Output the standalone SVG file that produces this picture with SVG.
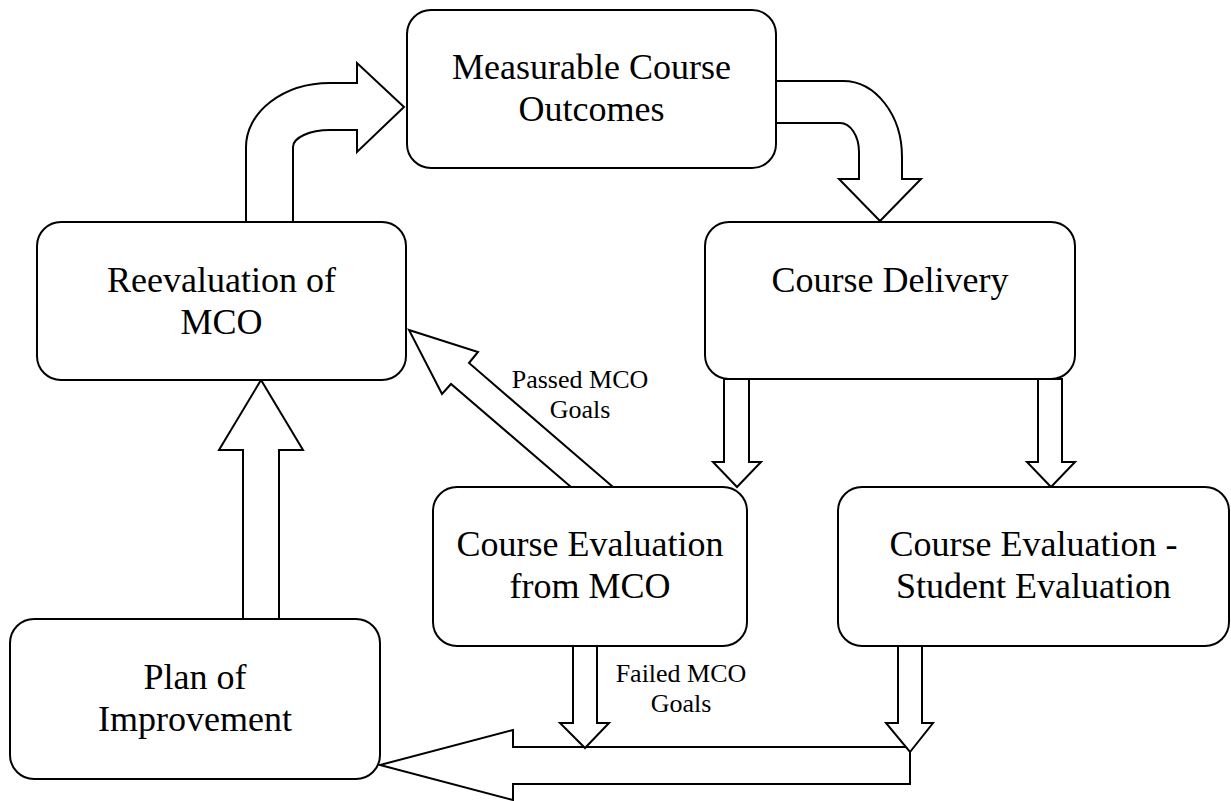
<svg xmlns="http://www.w3.org/2000/svg" width="1231" height="801" viewBox="0 0 1231 801">
<style>
.box{fill:#fff;stroke:#000;stroke-width:2}
.arr{fill:#fff;stroke:#000;stroke-width:2;stroke-linejoin:miter}
.t{font-family:"Liberation Serif","Times New Roman",serif;font-size:36px;fill:#000;text-anchor:middle}
.l{font-family:"Liberation Serif","Times New Roman",serif;font-size:26px;fill:#000;text-anchor:middle}
</style>
<rect width="1231" height="801" fill="#fff"/>
<g id="connectors">
<path class="arr" d="M246,222 L246,147 A84,64 0 0 1 330,83 L357,83 L357,63 L404,107 L357,152 L357,130 L330,130 A37,17 0 0 0 293,147 L293,222"/>
<path class="arr" d="M776,81 L843,81 A59,76 0 0 1 902,157 L902,179 L921,179 L880,221 L839,179 L859,179 L859,152 A19,29 0 0 0 840,123 L776,123"/>
<polygon class="arr" points="571,487 451,384 442,394 409,330 478,352 469,363 613,487"/>
<polygon class="arr" points="724,379 724,462 713,462 737,487 761,462 749,462 749,379"/>
<polygon class="arr" points="1038,379 1038,462 1027,462 1051,487 1075,462 1062,462 1062,379"/>
<polygon class="arr" points="243,619 243,450 219,450 261,380 303,450 279,450 279,619"/>
<polygon class="arr" points="513,747 910,747 910,784 513,784 513,800 380,765 513,730"/>
<polygon class="arr" points="573,646 573,723 560,723 585,748 609,723 597,723 597,646"/>
<polygon class="arr" points="898,646 898,723 886,723 910,752 933,723 922,723 922,646"/>
<text class="l" x="580" y="388">Passed MCO</text>
<text class="l" x="580" y="418">Goals</text>
<text class="l" x="681" y="682">Failed MCO</text>
<text class="l" x="681" y="712">Goals</text>
</g>
<g id="mco">
<rect class="box" x="407" y="10" width="369" height="158" rx="24"/>
<text class="t" x="591.5" y="79">Measurable Course</text>
<text class="t" x="591.5" y="121">Outcomes</text>
</g>
<g id="delivery">
<rect class="box" x="705" y="222" width="370" height="157" rx="24"/>
<text class="t" x="890" y="292">Course Delivery</text>
</g>
<g id="reeval">
<rect class="box" x="37" y="222" width="369" height="158" rx="24"/>
<text class="t" x="221.5" y="292">Reevaluation of</text>
<text class="t" x="221.5" y="334">MCO</text>
</g>
<g id="evalmco">
<rect class="box" x="433" y="487" width="314" height="159" rx="24"/>
<text class="t" x="590" y="556">Course Evaluation</text>
<text class="t" x="590" y="598">from MCO</text>
</g>
<g id="evalstudent">
<rect class="box" x="838" y="487" width="391" height="159" rx="24"/>
<text class="t" x="1033.5" y="556">Course Evaluation  -</text>
<text class="t" x="1033.5" y="598">Student Evaluation</text>
</g>
<g id="plan">
<rect class="box" x="10" y="619" width="370" height="160" rx="24"/>
<text class="t" x="195" y="689">Plan of</text>
<text class="t" x="195" y="731">Improvement</text>
</g>
</svg>
